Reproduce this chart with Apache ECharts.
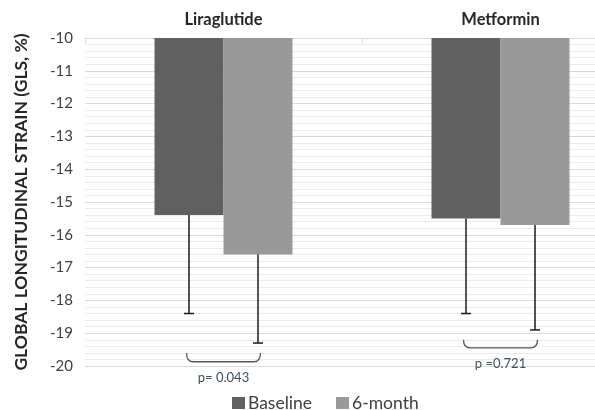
<!DOCTYPE html>
<html>
<head>
<meta charset="utf-8">
<script src="https://cdn.jsdelivr.net/npm/echarts@6/dist/echarts.min.js"></script>
<style>html,body{margin:0;padding:0;background:#fff}#c{width:595px;height:410px}</style>
</head>
<body>
<div id="c"></div>
<script>
var categories = ['Liraglutide', 'Metformin'];
var seriesNames = ['Baseline', '6-month'];
var baseline = [-15.4, -15.5];
var sixMonth = [-16.6, -15.7];
var baselineLow = [-18.4, -18.4];
var sixMonthLow = [-19.3, -18.9];
var bracketTop = [-19.6, -19.2];
var bracketBottom = [-19.87, -19.45];
var pLabels = ['p= 0.043', 'p =0.721'];

var FONT = 'Lato';
var BAR_W = 69;

var errData = [];
for (var i = 0; i < categories.length; i++) {
  errData.push([i, baselineLow[i], -1]);
  errData.push([i, sixMonthLow[i], 1]);
}
var bracketData = categories.map(function (c, i) { return [i, bracketTop[i], bracketBottom[i], pLabels[i]]; });

var chart = echarts.init(document.getElementById('c'));
chart.setOption({
  animation: false,
  textStyle: { fontFamily: FONT },
  grid: { left: 85, top: 38, width: 554, height: 328, outerBoundsMode: 'none', containLabel: false },
  xAxis: {
    type: 'category',
    position: 'top',
    data: categories,
    axisLine: { show: true, lineStyle: { color: '#d9d9d9' } },
    axisTick: { show: true, inside: true, length: 5, lineStyle: { color: '#d9d9d9' } },
    axisLabel: { fontFamily: FONT, fontWeight: 'bold', fontSize: 16.5, color: '#262626', margin: 10 }
  },
  yAxis: {
    type: 'value',
    min: -20, max: -10, interval: 1,
    name: 'GLOBAL LONGITUDINAL STRAIN (GLS, %)',
    nameLocation: 'middle',
    nameGap: 55,
    nameRotate: 90,
    nameTextStyle: { fontFamily: FONT, fontWeight: 'bold', fontSize: 17.5, color: '#262626' },
    axisLine: { show: false },
    axisTick: { show: false },
    axisLabel: { fontFamily: FONT, fontSize: 15, color: '#404040', margin: 12 },
    splitLine: { show: true, lineStyle: { color: '#d9d9d9' } },
    minorTick: { show: false, splitNumber: 5 },
    minorSplitLine: { show: true, lineStyle: { color: '#ebebeb' } }
  },
  legend: {
    left: 232, top: 394, padding: 0,
    icon: 'rect', itemWidth: 13, itemHeight: 12, itemGap: 24,
    textStyle: { fontFamily: FONT, fontSize: 17.5, color: '#404040', padding: [0, 0, 0, -2] },
    data: seriesNames
  },
  series: [
    { name: seriesNames[0], type: 'bar', data: baseline, barWidth: BAR_W, barGap: '0%', itemStyle: { color: '#606060' }, clip: true },
    { name: seriesNames[1], type: 'bar', data: sixMonth, barWidth: BAR_W, itemStyle: { color: '#999999' }, clip: true },
    {
      type: 'custom', name: 'err', data: errData, silent: true, z: 5,
      encode: { x: 0, y: 1 },
      renderItem: function (params, api) {
        var cat = api.value(0), low = api.value(1), sign = api.value(2);
        var barVal = sign < 0 ? baseline[cat] : sixMonth[cat];
        var top = api.coord([cat, barVal]);
        var bot = api.coord([cat, low]);
        var x = top[0] + sign * BAR_W / 2;
        return {
          type: 'group',
          children: [
            { type: 'line', shape: { x1: x, y1: top[1], x2: x, y2: bot[1] }, style: { stroke: '#1a1a1a', lineWidth: 1.5 } },
            { type: 'line', shape: { x1: x - 5, y1: bot[1], x2: x + 5, y2: bot[1] }, style: { stroke: '#1a1a1a', lineWidth: 1.5 } }
          ]
        };
      }
    },
    {
      type: 'custom', name: 'bracket', data: bracketData, silent: true, clip: false, z: 5,
      encode: { x: 0, y: 1 },
      renderItem: function (params, api) {
        var cat = api.value(0);
        var t = api.coord([cat, api.value(1)]);
        var b = api.coord([cat, api.value(2)]);
        var x1 = t[0] - 37, x2 = t[0] + 37, yt = t[1], yb = b[1], r = 7;
        var d = 'M' + x1 + ' ' + yt + ' Q' + x1 + ' ' + yb + ' ' + (x1 + r) + ' ' + yb +
                ' L' + (x2 - r) + ' ' + yb + ' Q' + x2 + ' ' + yb + ' ' + x2 + ' ' + yt;
        return {
          type: 'group',
          children: [
            { type: 'path', shape: { pathData: d }, style: { fill: null, stroke: '#555', lineWidth: 1.3 } },
            { type: 'text', x: t[0], y: yb + 16, style: { text: bracketData[cat][3], fontFamily: FONT, fontSize: 13, fill: '#3e4e62', align: 'center', verticalAlign: 'middle' } }
          ]
        };
      }
    }
  ]
});
</script>
</body>
</html>
